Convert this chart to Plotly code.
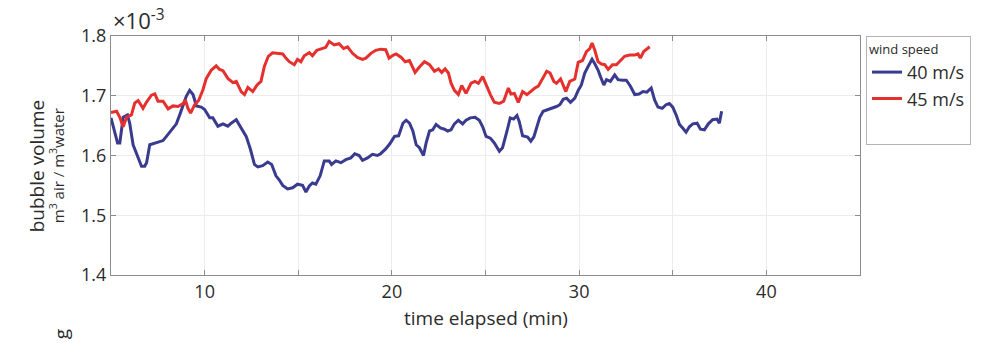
import numpy as np
import plotly.graph_objects as go

# time elapsed (min) and bubble volume (x10^-3 m3 air / m3 water)
blue_t = [5.0, 5.35, 5.47, 5.65, 5.88, 6.0, 6.18, 6.45, 6.63, 6.8, 6.9, 7.07, 7.34, 7.78, 7.96, 8.22, 8.49, 8.67, 8.85, 9.02,
          9.2, 9.38, 9.56, 9.82, 10.0, 10.27, 10.44, 10.71, 10.98, 11.24, 11.42, 11.69, 11.95, 12.22, 12.45, 12.66, 12.84, 13.1,
          13.37, 13.58, 13.81, 13.99, 14.17, 14.43, 14.7, 14.96, 15.23, 15.41, 15.59, 15.76, 15.94, 16.17, 16.39, 16.65, 16.78,
          17.01, 17.28, 17.54, 17.81, 18.02, 18.25, 18.43, 18.7, 18.96, 19.23, 19.4, 19.67, 19.9, 20.14, 20.36, 20.59, 20.76,
          20.94, 21.12, 21.3, 21.47, 21.69, 21.83, 22.01, 22.18, 22.36, 22.59, 22.81, 22.98, 23.16, 23.34, 23.55, 23.78, 23.96,
          24.19, 24.44, 24.67, 24.85, 25.03, 25.26, 25.47, 25.74, 25.91, 26.15, 26.32, 26.5, 26.68, 26.8, 26.98, 27.25, 27.42,
          27.58, 27.76, 27.9, 28.08, 28.35, 28.58, 28.79, 28.97, 29.15, 29.33, 29.54, 29.77, 29.95, 30.12, 30.3, 30.48, 30.69,
          30.83, 31.01, 31.14, 31.32, 31.46, 31.67, 31.9, 32.08, 32.31, 32.52, 32.74, 32.97, 33.2, 33.41, 33.62, 33.85, 34.03,
          34.21, 34.44, 34.64, 34.82, 35.0, 35.18, 35.36, 35.53, 35.71, 35.89, 36.07, 36.3, 36.48, 36.69, 36.9, 37.13, 37.36,
          37.49, 37.61]
blue_v = [1.663, 1.621, 1.621, 1.664, 1.668, 1.654, 1.618, 1.596, 1.582, 1.582, 1.588, 1.618, 1.621, 1.625, 1.632, 1.643, 1.653,
          1.668, 1.685, 1.699, 1.709, 1.702, 1.683, 1.681, 1.677, 1.663, 1.663, 1.649, 1.653, 1.649, 1.654, 1.660, 1.646, 1.632,
          1.610, 1.585, 1.581, 1.583, 1.589, 1.585, 1.566, 1.559, 1.550, 1.544, 1.546, 1.552, 1.550, 1.539, 1.549, 1.554, 1.552,
          1.566, 1.591, 1.591, 1.585, 1.591, 1.588, 1.593, 1.596, 1.603, 1.600, 1.592, 1.596, 1.602, 1.600, 1.603, 1.611, 1.620,
          1.632, 1.633, 1.654, 1.659, 1.654, 1.641, 1.618, 1.613, 1.600, 1.621, 1.641, 1.643, 1.652, 1.646, 1.644, 1.641, 1.643,
          1.653, 1.659, 1.653, 1.659, 1.663, 1.664, 1.659, 1.648, 1.632, 1.629, 1.621, 1.607, 1.613, 1.641, 1.663, 1.661, 1.667,
          1.657, 1.633, 1.631, 1.624, 1.631, 1.649, 1.664, 1.674, 1.677, 1.679, 1.682, 1.685, 1.694, 1.696, 1.689, 1.696, 1.709,
          1.718, 1.738, 1.749, 1.761, 1.754, 1.743, 1.732, 1.718, 1.727, 1.724, 1.735, 1.727, 1.726, 1.726, 1.716, 1.702, 1.703,
          1.707, 1.706, 1.713, 1.693, 1.681, 1.679, 1.685, 1.687, 1.681, 1.668, 1.652, 1.646, 1.639, 1.648, 1.653, 1.654, 1.644,
          1.643, 1.653, 1.660, 1.661, 1.654, 1.674]

red_t = [5.0, 5.3, 5.47, 5.65, 5.83, 6.09, 6.27, 6.45, 6.71, 6.89, 7.16, 7.34, 7.51, 7.78, 8.05, 8.31, 8.58, 8.85, 8.97, 9.11,
         9.25, 9.47, 9.68, 9.91, 10.09, 10.36, 10.62, 10.8, 10.98, 11.24, 11.51, 11.69, 11.95, 12.13, 12.31, 12.57, 12.8, 13.01,
         13.19, 13.4, 13.63, 13.9, 14.17, 14.34, 14.52, 14.79, 14.96, 15.14, 15.32, 15.59, 15.76, 15.99, 16.24, 16.47, 16.65,
         16.92, 17.18, 17.42, 17.63, 17.9, 18.16, 18.43, 18.61, 18.88, 19.14, 19.4, 19.67, 19.85, 20.08, 20.23, 20.5, 20.71,
         20.94, 21.24, 21.47, 21.74, 22.01, 22.27, 22.49, 22.66, 22.84, 23.02, 23.16, 23.34, 23.55, 23.73, 23.96, 24.23, 24.44,
         24.62, 24.85, 25.03, 25.26, 25.47, 25.74, 25.97, 26.22, 26.36, 26.54, 26.75, 26.98, 27.21, 27.46, 27.64, 27.82, 28.0,
         28.27, 28.45, 28.65, 28.79, 29.01, 29.29, 29.5, 29.77, 29.95, 30.18, 30.39, 30.57, 30.69, 30.83, 31.01, 31.19, 31.37,
         31.55, 31.78, 31.99, 32.2, 32.43, 32.7, 32.97, 33.14, 33.27, 33.45, 33.62, 33.77]
red_v = [1.672, 1.674, 1.664, 1.648, 1.664, 1.668, 1.688, 1.692, 1.679, 1.689, 1.701, 1.703, 1.691, 1.691, 1.678, 1.683, 1.682,
         1.687, 1.693, 1.679, 1.671, 1.685, 1.692, 1.710, 1.729, 1.743, 1.750, 1.744, 1.742, 1.729, 1.722, 1.724, 1.707, 1.702,
         1.714, 1.707, 1.718, 1.724, 1.749, 1.766, 1.772, 1.771, 1.770, 1.763, 1.757, 1.752, 1.761, 1.757, 1.767, 1.772, 1.767,
         1.776, 1.779, 1.781, 1.791, 1.785, 1.787, 1.779, 1.782, 1.771, 1.764, 1.761, 1.763, 1.771, 1.776, 1.778, 1.777, 1.763,
         1.768, 1.770, 1.764, 1.757, 1.759, 1.739, 1.748, 1.757, 1.752, 1.741, 1.745, 1.739, 1.745, 1.738, 1.721, 1.709, 1.702,
         1.717, 1.704, 1.721, 1.724, 1.721, 1.732, 1.718, 1.702, 1.689, 1.687, 1.691, 1.713, 1.703, 1.704, 1.689, 1.707, 1.702,
         1.709, 1.713, 1.716, 1.727, 1.741, 1.738, 1.724, 1.721, 1.728, 1.707, 1.724, 1.728, 1.756, 1.759, 1.774, 1.779, 1.788,
         1.777, 1.757, 1.753, 1.752, 1.744, 1.752, 1.752, 1.759, 1.766, 1.768, 1.768, 1.770, 1.763, 1.774, 1.779, 1.782]

series_names = ["40 m/s", "45 m/s"]
x_tickvals = [5, 10, 15, 20, 25, 30, 35, 40, 45]
x_ticktext = ["", "10", "", "20", "", "30", "", "40", ""]
y_tickvals = [1.4, 1.5, 1.6, 1.7, 1.8]
y_ticktext = ["1.4", "1.5", "1.6", "1.7", "1.8"]

SCALE = 1e-3
FONT = "Open Sans"
TXT = "#2b2b2b"
AX = "#8c8c8c"
GRID = "#ececec"

fig = go.Figure()
fig.add_trace(go.Scatter(x=blue_t, y=np.array(blue_v) * SCALE, mode="lines", name=series_names[0],
                         line=dict(color="#3a3b8f", width=3)))
fig.add_trace(go.Scatter(x=red_t, y=np.array(red_v) * SCALE, mode="lines", name=series_names[1],
                         line=dict(color="#e5302d", width=3)))
# empty legend row (the reference legend box has blank space below the entries)
fig.add_trace(go.Scatter(x=[None], y=[None], mode="lines", name=" ", line=dict(color="white", width=0),
                         hoverinfo="skip"))

L, R, T, B = 111, 983 - 863, 36, 343 - 275
W, H = 983 - L - R, 343 - T - B

def px(xp):
    return (xp - L) / W

def py(yp):
    return (T + H - yp) / H

fig.update_layout(
    width=983, height=343,
    margin=dict(l=L, r=R, t=T, b=B),
    paper_bgcolor="white", plot_bgcolor="white",
    font=dict(family=FONT, color=TXT, size=18),
    showlegend=True,
    legend=dict(x=px(869), y=1, xanchor="left", yanchor="top",
                bordercolor="#b4b4b4", borderwidth=1, bgcolor="white",
                title=dict(text="wind speed", font=dict(size=13, color=TXT)),
                font=dict(size=18, color=TXT), itemwidth=30, tracegroupgap=0),
    xaxis=dict(range=[5, 45], tickvals=x_tickvals, ticktext=x_ticktext, ticks="inside", ticklen=5,
               tickcolor=AX, showline=True, linecolor=AX, linewidth=1, mirror="ticks",
               showgrid=True, gridcolor=GRID, gridwidth=1, zeroline=False,
               tickfont=dict(size=18, color=TXT)),
    yaxis=dict(range=[1.4 * SCALE, 1.8 * SCALE], tickvals=[v * SCALE for v in y_tickvals], ticktext=y_ticktext,
               ticks="inside", ticklen=5, tickcolor=AX, showline=True, linecolor=AX, linewidth=1, mirror="ticks",
               showgrid=True, gridcolor=GRID, gridwidth=1, zeroline=False,
               tickfont=dict(size=18, color=TXT)),
    shapes=[dict(type="rect", xref="x", yref="y", x0=37.7, x1=45, y0=1.425 * SCALE, y1=1.676 * SCALE,
                 fillcolor="white", line=dict(width=0), layer="below")],
    annotations=[
        dict(text="bubble volume", xref="paper", yref="paper", x=px(37), y=py(166), textangle=-90,
             showarrow=False, font=dict(size=19, color=TXT), xanchor="center", yanchor="middle"),
        dict(text="m<sup>3</sup> air / m<sup>3</sup>water", xref="paper", yref="paper", x=px(56), y=py(166),
             textangle=-90, showarrow=False, font=dict(size=15, color=TXT), xanchor="center", yanchor="middle"),
        dict(text="×10<sup>-3</sup>", xref="paper", yref="paper", x=px(111), y=py(37), xanchor="left",
             yanchor="bottom", showarrow=False, font=dict(size=22, color=TXT)),
        dict(text="time elapsed (min)", xref="paper", yref="paper", x=0.5, y=py(318), xanchor="center",
             yanchor="middle", showarrow=False, font=dict(size=19, color=TXT)),
        dict(text="g", xref="paper", yref="paper", x=px(61), y=py(334), textangle=-90, xanchor="center",
             yanchor="middle", showarrow=False, font=dict(size=19, color=TXT)),
    ],
)

fig.write_html("out.html")
